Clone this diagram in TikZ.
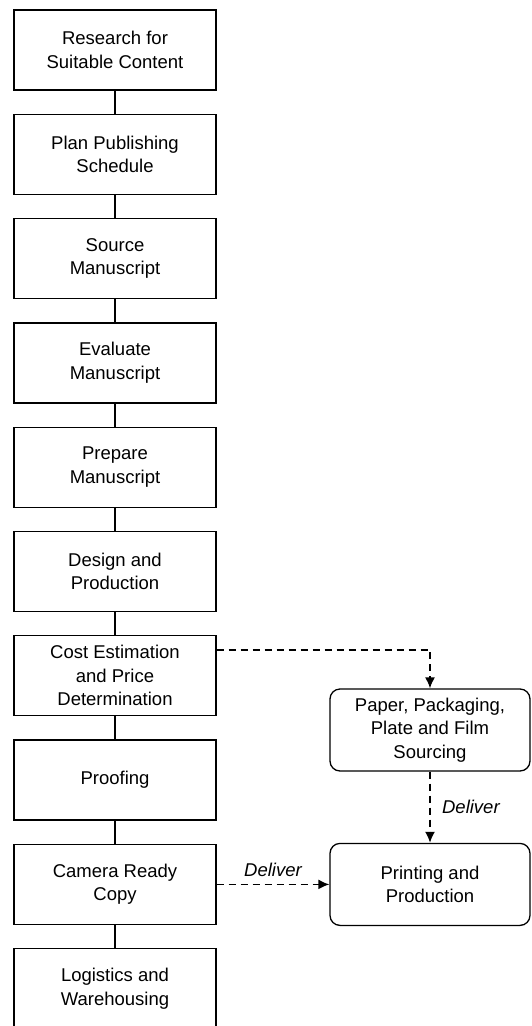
\documentclass[tikz,border=0pt]{standalone}
\usepackage{fontspec}
\setmainfont{Liberation Sans}
\usetikzlibrary{positioning,arrows.meta}

\begin{document}
\begin{tikzpicture}[x=1pt,y=-1pt,font=\fontsize{18.5}{23.5}\selectfont,node distance=23pt,
        stepbox/.style={draw,line width=1.3pt,minimum width=202pt,minimum height=80pt,align=center,inner sep=2pt},
        supplybox/.style={stepbox,rounded corners=10pt,minimum width=200pt,minimum height=82pt},
        link/.style={line width=1.6pt},
        flow/.style={line width=1.6pt,dash pattern=on 7pt off 5pt,-{Latex[length=11pt,width=10pt]}},
        lbl/.style={font=\fontsize{18.5}{22}\selectfont\itshape}]
        \useasboundingbox (0,0) rectangle (532,1026);
        % main chain
        \node[stepbox] (research) at (115,50) {Research for\\Suitable Content};
        \node[stepbox,below=of research] (plan) {Plan Publishing\\Schedule};
        \node[stepbox,below=of plan] (source) {Source\\Manuscript};
        \node[stepbox,below=of source] (evaluate) {Evaluate\\Manuscript};
        \node[stepbox,below=of evaluate] (prepare) {Prepare\\Manuscript};
        \node[stepbox,below=of prepare] (design) {Design and\\Production};
        \node[stepbox,below=of design] (cost) {Cost Estimation\\and Price\\Determination};
        \node[stepbox,below=of cost] (proofing) {Proofing};
        \node[stepbox,below=of proofing] (camera) {Camera Ready\\Copy};
        \node[stepbox,below=of camera] (logistics) {Logistics and\\Warehousing};
        \foreach \a/\b in {research/plan,plan/source,source/evaluate,evaluate/prepare,
            prepare/design,design/cost,cost/proofing,proofing/camera,camera/logistics}
          \draw[link] (\a) -- (\b);
        % suppliers
        \node[supplybox] (paper) at (430,730) {Paper, Packaging,\\Plate and Film\\Sourcing};
        \node[supplybox] (printing) at (camera -| paper) {Printing and\\Production};
        \draw[flow] ([yshift=26pt]cost.east) -| (paper.north);
        \draw[flow] (paper) -- node[right=8pt,lbl] {Deliver} (printing);
        \draw[flow] (camera) -- node[above=4pt,lbl] {Deliver} (printing);
      \end{tikzpicture}
\end{document}
